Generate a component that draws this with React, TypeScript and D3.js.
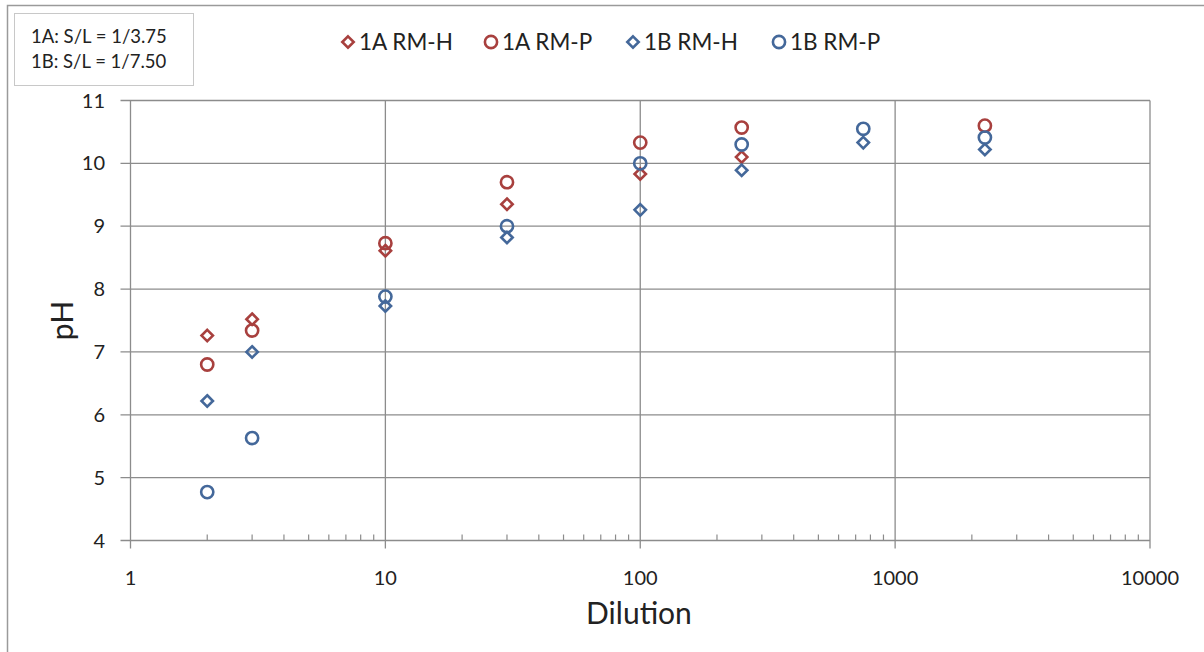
import React from "react";
import * as d3 from "d3";

const dilutions = [2, 3, 10, 30, 100, 250, 750, 2250];
const rmH1A = [7.26, 7.52, 8.61, 9.35, 9.83, 10.1, null, null];
const rmP1A = [6.8, 7.34, 8.73, 9.7, 10.33, 10.57, null, 10.6];
const rmH1B = [6.22, 7.0, 7.73, 8.82, 9.26, 9.89, 10.33, 10.22];
const rmP1B = [4.77, 5.63, 7.88, 9.0, 10.0, 10.3, 10.55, 10.41];
const xTicks = [1, 10, 100, 1000, 10000];
const yTicks = [4, 5, 6, 7, 8, 9, 10, 11];
const legendLabels = ["1A RM-H", "1A RM-P", "1B RM-H", "1B RM-P"];
const noteLines = ["1A: S/L = 1/3.75", "1B: S/L = 1/7.50"];

const RED = "#A8403E";
const BLUE = "#44689A";
const FONT = "Lato, 'Open Sans', sans-serif";

type Series = { name: string; values: (number | null)[]; shape: "diamond" | "circle"; color: string };
const series: Series[] = [
  { name: legendLabels[0], values: rmH1A, shape: "diamond", color: RED },
  { name: legendLabels[1], values: rmP1A, shape: "circle", color: RED },
  { name: legendLabels[2], values: rmH1B, shape: "diamond", color: BLUE },
  { name: legendLabels[3], values: rmP1B, shape: "circle", color: BLUE },
];

function Marker({ shape, color, x, y }: { shape: string; color: string; x: number; y: number }) {
  if (shape === "circle") {
    return <circle cx={x} cy={y} r={6.1} fill="none" stroke={color} strokeWidth={2.6} />;
  }
  const s = 5.7;
  return (
    <path
      d={`M${x},${y - s}L${x + s},${y}L${x},${y + s}L${x - s},${y}Z`}
      fill="none"
      stroke={color}
      strokeWidth={2.6}
    />
  );
}

export default function App() {
  const W = 1204, H = 652;
  const left = 130.5, right = 1150, top = 100.5, bottom = 540.5;
  const x = d3.scaleLog().domain([1, 10000]).range([left, right]);
  const y = d3.scaleLinear().domain([4, 11]).range([bottom, top]);
  const minor: number[] = [];
  for (let d = 1; d < 10000; d *= 10) for (let k = 2; k <= 9; k++) minor.push(d * k);
  const grid = "#8c8c8c";
  const legendX = [341, 484, 626, 772];

  return (
    <svg width={W} height={H} style={{ position: "absolute", left: 0, top: 0 }}>
      <rect x={0} y={0} width={W} height={H} fill="#fff" />
      <rect x={7.5} y={5.5} width={1210} height={660} fill="#fff" stroke="#9a9a9a" strokeWidth={1.5} />
      {/* note box */}
      <rect x={14.5} y={13.5} width={179} height={72} fill="#fff" stroke="#c8c8c8" strokeWidth={1} />
      {noteLines.map((t, i) => (
        <text key={t} x={31} y={43 + i * 25} fontFamily={FONT} fontSize={18.5} fill="#222">
          {t}
        </text>
      ))}
      {/* grid */}
      {yTicks.map((v) => (
        <line key={"gy" + v} x1={left - 10} x2={right} y1={y(v)} y2={y(v)} stroke={grid} strokeWidth={1.3} />
      ))}
      {xTicks.map((v) => (
        <line key={"gx" + v} x1={x(v)} x2={x(v)} y1={top} y2={bottom + 8} stroke={grid} strokeWidth={1.3} />
      ))}
      {minor.map((v) => (
        <line key={"mx" + v} x1={x(v)} x2={x(v)} y1={bottom - 6} y2={bottom} stroke={grid} strokeWidth={1.2} />
      ))}
      {yTicks.map((v) => (
        <text key={"ty" + v} x={105} y={y(v) + 7} textAnchor="end" fontFamily={FONT} fontSize={20} fill="#222">
          {v}
        </text>
      ))}
      {xTicks.map((v) => (
        <text key={"tx" + v} x={x(v)} y={585} textAnchor="middle" fontFamily={FONT} fontSize={20} fill="#222">
          {v}
        </text>
      ))}
      <text x={639} y={624} textAnchor="middle" fontFamily={FONT} fontSize={30} fill="#222">
        Dilution
      </text>
      <text
        transform={`translate(73,${(top + bottom) / 2}) rotate(-90)`}
        textAnchor="middle"
        fontFamily={FONT}
        fontSize={30}
        fill="#222"
      >
        pH
      </text>
      {/* data */}
      {series.map((s) =>
        s.values.map((v, i) =>
          v == null ? null : (
            <Marker key={s.name + i} shape={s.shape} color={s.color} x={x(dilutions[i])} y={y(v)} />
          )
        )
      )}
      {/* legend */}
      {series.map((s, i) => (
        <g key={"lg" + i}>
          <Marker shape={s.shape} color={s.color} x={legendX[i] + 7} y={42} />
          <text x={legendX[i] + 18} y={50} fontFamily={FONT} fontSize={22.5} fill="#222">
            {s.name}
          </text>
        </g>
      ))}
    </svg>
  );
}
